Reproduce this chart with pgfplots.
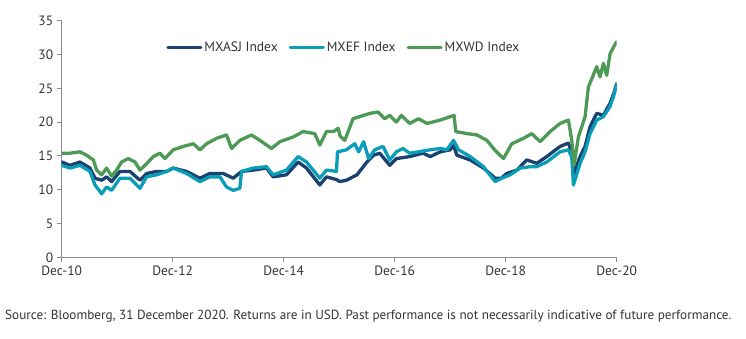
\documentclass[border=0pt]{standalone}
\usepackage{pgfplots}
\pgfplotsset{compat=1.18}
\usepackage{fontspec}
\setmainfont{PT Sans}
\definecolor{cnavy}{HTML}{1B4170}
\definecolor{cteal}{HTML}{0A9DB8}
\definecolor{cgreen}{HTML}{4C9A55}
\definecolor{caxis}{HTML}{8C8C8C}
\definecolor{ctext}{HTML}{333333}
\begin{document}
\begin{tikzpicture}
\useasboundingbox (-61.7pt,-81.7pt) rectangle (684.3pt,257.3pt);
\begin{axis}[
  scale only axis,
  width=555pt, height=236.6pt,
  xmin=0, xmax=10, ymin=0, ymax=35,
  axis x line*=bottom, axis y line*=left,
  axis line style={caxis, line width=0.8pt, -},
  xtick={0,2,4,6,8,10},
  xticklabels={Dec-10,Dec-12,Dec-14,Dec-16,Dec-18,Dec-20},
  ytick={0,5,...,35},
  tick align=outside,
  major tick length=5pt,
  tick style={caxis, line width=0.8pt},
  ticklabel style={font=\fontsize{13.5}{15}\selectfont, text=ctext},
  /pgf/number format/assume math mode=true,
  every axis plot/.append style={line width=3.3pt, line join=round, line cap=round},
  legend columns=3,
  legend style={at={(0.183,0.885)}, anchor=west, draw=none, fill=none,
    font=\fontsize{13.5}{15}\selectfont, text=ctext,
    /tikz/every even column/.append style={column sep=9pt}},
  legend image code/.code={\draw[#1, line width=3pt, line cap=round] (0pt,0pt) -- (33pt,0pt);},
]
\addplot[cnavy] coordinates {
(0,14.1)(0.15,13.6)(0.33,14.1)(0.51,13.2)(0.6,11.7)(0.72,11.4)(0.81,11.9)(0.9,11.2)(1.05,12.7)(1.23,12.7)(1.41,11.4)(1.53,12.4)(1.71,12.7)(1.89,12.7)(2.01,13.2)(2.25,12.7)(2.49,11.7)(2.67,12.4)(2.91,12.4)(3.09,11.7)(3.24,12.7)(3.45,12.9)(3.69,13.2)(3.81,11.9)(4.05,12.2)(4.26,14.1)(4.41,13.2)(4.65,10.7)(4.77,11.9)(4.95,11.5)(5.01,11.2)(5.13,11.4)(5.32,12.2)(5.5,14.1)(5.62,15.1)(5.73,15.4)(5.91,13.6)(6.03,14.6)(6.27,14.9)(6.51,15.4)(6.64,14.9)(6.82,15.6)(7.0,15.9)(7.06,16.6)(7.12,15.1)(7.36,14.4)(7.6,13.2)(7.81,11.7)(7.92,11.7)(8.02,12.4)(8.2,12.9)(8.38,14.4)(8.56,13.9)(8.74,14.9)(8.98,16.4)(9.13,16.9)(9.19,15.5)(9.23,12.4)(9.34,14.9)(9.43,16.4)(9.52,19.3)(9.64,21.3)(9.76,21.0)(9.88,22.8)(9.95,24.3)(10.0,25.7)
};
\addlegendentry{MXASJ Index}
\addplot[cteal] coordinates {
(0,13.6)(0.15,13.2)(0.33,13.6)(0.51,12.7)(0.6,10.7)(0.72,9.4)(0.81,10.4)(0.9,9.9)(1.05,11.7)(1.23,11.7)(1.41,10.2)(1.53,11.9)(1.71,12.2)(1.89,12.7)(2.01,13.2)(2.25,12.4)(2.49,11.2)(2.67,11.9)(2.85,11.9)(2.97,10.4)(3.09,9.9)(3.21,10.2)(3.24,12.7)(3.45,13.2)(3.69,13.4)(3.81,12.2)(4.05,12.9)(4.26,14.9)(4.41,14.1)(4.65,11.7)(4.77,12.9)(4.95,12.7)(4.97,15.6)(5.13,15.9)(5.28,16.8)(5.35,15.6)(5.44,17.1)(5.53,14.6)(5.64,15.9)(5.79,16.4)(5.91,14.4)(6.03,15.6)(6.15,16.1)(6.27,15.4)(6.43,15.6)(6.64,15.9)(6.82,16.1)(6.94,15.9)(7.06,17.3)(7.15,15.9)(7.36,14.9)(7.6,13.4)(7.81,11.2)(7.93,11.7)(8.08,12.2)(8.26,13.2)(8.44,13.4)(8.56,13.4)(8.74,14.1)(8.98,15.6)(9.13,15.9)(9.19,14.8)(9.22,10.7)(9.34,13.9)(9.43,15.6)(9.52,18.3)(9.64,20.3)(9.76,20.8)(9.88,22.3)(9.95,24.0)(10.0,25.5)
};
\addlegendentry{MXEF Index}
\addplot[cgreen] coordinates {
(0,15.4)(0.15,15.4)(0.33,15.6)(0.45,15.1)(0.57,14.4)(0.63,12.9)(0.72,12.2)(0.81,13.2)(0.9,12.0)(0.99,12.9)(1.08,14.1)(1.2,14.6)(1.32,14.1)(1.41,12.9)(1.5,13.6)(1.65,14.9)(1.77,15.4)(1.86,14.6)(2.01,15.9)(2.19,16.4)(2.37,16.8)(2.49,15.9)(2.61,16.8)(2.79,17.6)(2.97,18.1)(3.06,16.1)(3.21,17.3)(3.42,18.1)(3.57,17.3)(3.78,16.1)(3.93,17.1)(4.17,17.8)(4.35,18.6)(4.56,18.3)(4.65,16.6)(4.77,18.6)(4.9,18.6)(4.98,19.1)(5.02,17.9)(5.1,17.3)(5.25,20.5)(5.44,21.0)(5.56,21.3)(5.7,21.5)(5.82,20.5)(5.91,21.0)(6.03,20.0)(6.12,21.0)(6.27,19.8)(6.43,20.5)(6.58,19.8)(6.82,20.3)(7.0,20.8)(7.07,21.0)(7.1,18.6)(7.3,18.3)(7.48,18.1)(7.66,17.3)(7.81,15.8)(7.96,14.6)(8.11,16.8)(8.32,17.6)(8.47,18.3)(8.62,17.1)(8.8,18.6)(8.98,19.8)(9.13,20.3)(9.19,17.3)(9.23,13.6)(9.31,17.8)(9.43,20.8)(9.49,25.2)(9.64,28.2)(9.7,26.7)(9.76,28.7)(9.82,26.9)(9.88,30.1)(9.95,31.2)(10.0,31.9)
};
\addlegendentry{MXWD Index}
\end{axis}
\node[anchor=base west, font=\fontsize{13.2}{15}\selectfont, text=ctext, inner sep=0pt] at (-56.7pt,-62.7pt) {Source: Bloomberg, 31 December 2020. Returns are in USD. Past performance is not necessarily indicative of future performance.};
\end{tikzpicture}
\end{document}
